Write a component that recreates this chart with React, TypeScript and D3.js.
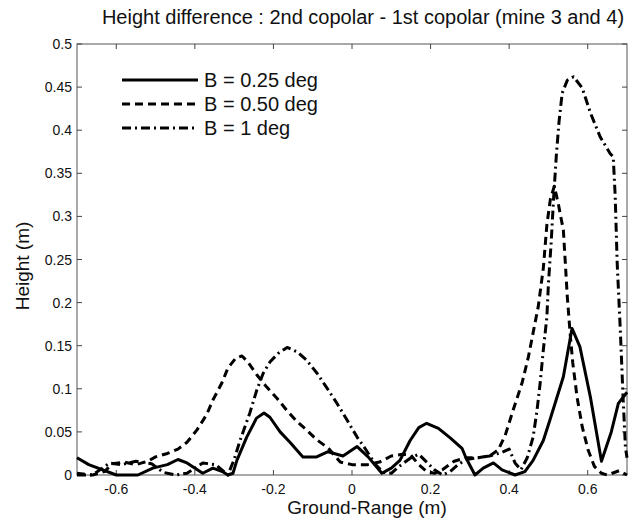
import React from 'react';
import * as d3 from 'd3';

// B = 0.25 deg (solid)
const b025: [number, number][] = [
  [-0.7, 0.02], [-0.67, 0.012], [-0.6, 0.0], [-0.545, 0.0], [-0.507, 0.008], [-0.47, 0.012],
  [-0.443, 0.018], [-0.42, 0.014], [-0.38, 0.002], [-0.354, 0.008], [-0.33, 0.004], [-0.316, 0.0],
  [-0.303, 0.002], [-0.293, 0.017], [-0.268, 0.044], [-0.243, 0.066], [-0.224, 0.072], [-0.209, 0.067],
  [-0.183, 0.05], [-0.158, 0.038], [-0.125, 0.021], [-0.09, 0.021], [-0.061, 0.027], [-0.023, 0.022],
  [0.013, 0.033], [0.041, 0.021], [0.076, 0.002], [0.1, 0.008], [0.122, 0.017], [0.148, 0.04],
  [0.17, 0.055], [0.19, 0.06], [0.22, 0.054], [0.25, 0.043], [0.28, 0.031], [0.29, 0.02],
  [0.313, 0.0], [0.334, 0.008], [0.36, 0.014], [0.382, 0.006], [0.415, 0.0], [0.44, 0.004],
  [0.461, 0.017], [0.487, 0.04], [0.504, 0.064], [0.538, 0.114], [0.56, 0.17], [0.58, 0.149],
  [0.607, 0.09], [0.635, 0.016], [0.66, 0.05], [0.678, 0.083], [0.7, 0.096],
];

// B = 0.50 deg (dashed)
const b050: [number, number][] = [
  [-0.7, 0.002], [-0.66, 0.0], [-0.63, 0.004], [-0.61, 0.013], [-0.58, 0.015], [-0.55, 0.012],
  [-0.52, 0.016], [-0.5, 0.021], [-0.47, 0.025], [-0.443, 0.03], [-0.42, 0.038], [-0.395, 0.052],
  [-0.37, 0.07], [-0.354, 0.087], [-0.331, 0.107], [-0.316, 0.124], [-0.295, 0.136], [-0.28, 0.138],
  [-0.265, 0.131], [-0.242, 0.116], [-0.217, 0.102], [-0.191, 0.089], [-0.166, 0.075], [-0.14, 0.062],
  [-0.115, 0.052], [-0.09, 0.041], [-0.06, 0.031], [-0.03, 0.015], [0.0, 0.012], [0.04, 0.012],
  [0.07, 0.015], [0.1, 0.022], [0.13, 0.024], [0.15, 0.023], [0.17, 0.012], [0.19, 0.004],
  [0.21, 0.002], [0.23, 0.006], [0.26, 0.016], [0.29, 0.02], [0.32, 0.02], [0.35, 0.022],
  [0.372, 0.029], [0.39, 0.046], [0.41, 0.075], [0.433, 0.107], [0.449, 0.137], [0.461, 0.165],
  [0.474, 0.195], [0.487, 0.24], [0.496, 0.29], [0.505, 0.32], [0.515, 0.335], [0.525, 0.315],
  [0.538, 0.284], [0.543, 0.246], [0.548, 0.207], [0.556, 0.16], [0.562, 0.13], [0.573, 0.09],
  [0.586, 0.056], [0.601, 0.029], [0.617, 0.01], [0.635, 0.002], [0.65, 0.0], [0.68, 0.005], [0.7, 0.0],
];

// B = 1 deg (dash-dot)
const b100: [number, number][] = [
  [-0.7, 0.0], [-0.66, 0.0], [-0.617, 0.014], [-0.586, 0.012], [-0.55, 0.016], [-0.51, 0.013],
  [-0.48, 0.003], [-0.45, 0.0], [-0.42, 0.002], [-0.38, 0.014], [-0.347, 0.012], [-0.316, 0.0],
  [-0.3, 0.018], [-0.285, 0.04], [-0.26, 0.072], [-0.242, 0.099], [-0.226, 0.118], [-0.209, 0.131],
  [-0.188, 0.141], [-0.165, 0.148], [-0.14, 0.143], [-0.115, 0.133], [-0.089, 0.118], [-0.064, 0.101],
  [-0.038, 0.083], [-0.013, 0.064], [0.013, 0.044], [0.033, 0.031], [0.06, 0.012], [0.08, 0.003],
  [0.1, 0.002], [0.12, 0.01], [0.15, 0.02], [0.17, 0.024], [0.19, 0.015], [0.21, 0.006],
  [0.23, 0.0], [0.25, 0.004], [0.27, 0.012], [0.29, 0.018], [0.32, 0.02], [0.35, 0.022],
  [0.38, 0.026], [0.4, 0.03], [0.415, 0.014], [0.43, 0.006], [0.446, 0.02], [0.461, 0.044],
  [0.471, 0.075], [0.479, 0.107], [0.487, 0.145], [0.496, 0.183], [0.5, 0.222], [0.507, 0.27],
  [0.513, 0.32], [0.52, 0.37], [0.527, 0.41], [0.535, 0.443], [0.548, 0.458], [0.564, 0.462],
  [0.586, 0.449], [0.607, 0.42], [0.632, 0.392], [0.657, 0.373], [0.665, 0.369], [0.67, 0.323],
  [0.675, 0.246], [0.683, 0.168], [0.69, 0.09], [0.696, 0.032], [0.7, 0.02],
];

const xTicks = [-0.6, -0.4, -0.2, 0, 0.2, 0.4, 0.6];
const xTickLabels = ['-0.6', '-0.4', '-0.2', '0', '0.2', '0.4', '0.6'];
const yTicks = [0, 0.05, 0.1, 0.15, 0.2, 0.25, 0.3, 0.35, 0.4, 0.45, 0.5];
const yTickLabels = ['0', '0.05', '0.1', '0.15', '0.2', '0.25', '0.3', '0.35', '0.4', '0.45', '0.5'];

const seriesNames = ['B = 0.25 deg', 'B = 0.50 deg', 'B = 1 deg'];
const seriesData = [b025, b050, b100];
const dashes = ['none', '8,5', '9,4,2,4'];

const W = 635;
const H = 519;
const left = 77, right = 627, top = 44, bottom = 475;
const font = '"Liberation Sans", Arial, sans-serif';

export default function App() {
  const x = d3.scaleLinear().domain([-0.7, 0.7]).range([left, right]);
  const y = d3.scaleLinear().domain([0, 0.5]).range([bottom, top]);
  const line = d3.line<[number, number]>().x(d => x(d[0])).y(d => y(d[1]));

  return (
    <svg width={W} height={H} style={{ position: 'absolute', left: 0, top: 0, background: '#fff' }}
      fontFamily={font}>
      <text x={363} y={24} fontSize={20} textAnchor="middle" fill="#111">
        Height difference : 2nd copolar - 1st copolar (mine 3 and 4)
      </text>

      {/* frame */}
      <rect x={left} y={top} width={right - left} height={bottom - top} fill="none" stroke="#555" strokeWidth={1} />

      {xTicks.map((t, i) => (
        <g key={'x' + i}>
          <line x1={x(t)} x2={x(t)} y1={bottom} y2={bottom - 5} stroke="#444" />
          <line x1={x(t)} x2={x(t)} y1={top} y2={top + 5} stroke="#444" />
          <text x={x(t)} y={494} fontSize={14} textAnchor="middle" fill="#111">{xTickLabels[i]}</text>
        </g>
      ))}
      {yTicks.map((t, i) => (
        <g key={'y' + i}>
          <line x1={left} x2={left + 5} y1={y(t)} y2={y(t)} stroke="#444" />
          <line x1={right} x2={right - 5} y1={y(t)} y2={y(t)} stroke="#444" />
          <text x={left - 5} y={y(t) + 5} fontSize={14} textAnchor="end" fill="#111">{yTickLabels[i]}</text>
        </g>
      ))}

      {seriesData.map((s, i) => (
        <path key={'s' + i} d={line(s) || ''} fill="none" stroke="#000" strokeWidth={3}
          strokeDasharray={dashes[i]} strokeLinejoin="round" />
      ))}

      {seriesNames.map((n, i) => {
        const ly = 80 + i * 24;
        return (
          <g key={'l' + i}>
            <line x1={122} x2={198} y1={ly} y2={ly} stroke="#000" strokeWidth={3} strokeDasharray={dashes[i]} />
            <text x={204} y={ly + 7} fontSize={20} fill="#111">{n}</text>
          </g>
        );
      })}

      <text x={367} y={514} fontSize={19} textAnchor="middle" fill="#111">Ground-Range (m)</text>
      <text transform={`translate(29,266) rotate(-90)`} fontSize={19} textAnchor="middle" fill="#111">Height (m)</text>
    </svg>
  );
}
